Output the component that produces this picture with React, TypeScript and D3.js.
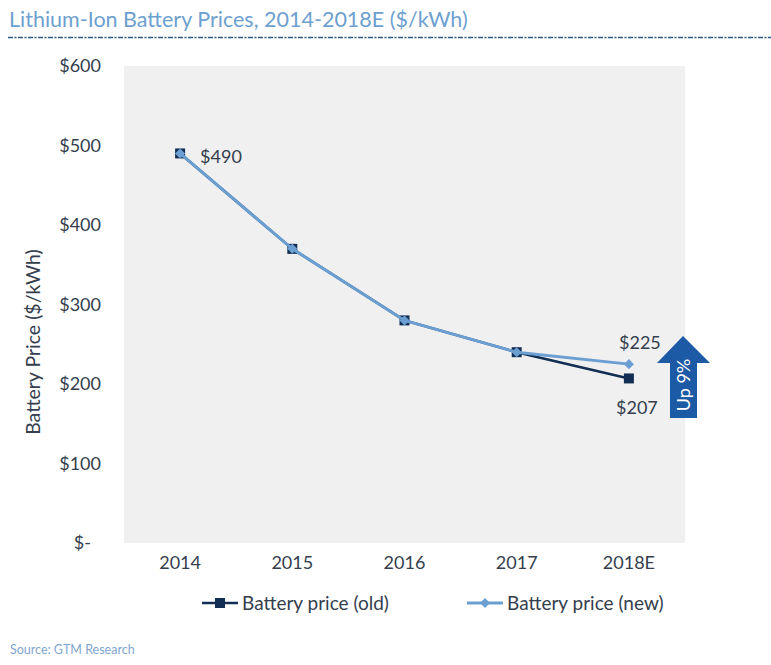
import * as d3 from "d3";

const years = ["2014", "2015", "2016", "2017", "2018E"];
const oldPrice = [490, 370, 280, 240, 207];
const newPrice = [490, 370, 280, 240, 225];
const yTicks = [0, 100, 200, 300, 400, 500, 600];

const W = 771;
const H = 665;
const FONT = "Lato, 'Open Sans', sans-serif";
const OLD_C = "#132e54";
const NEW_C = "#6b9fd2";
const TXT = "#343e4d";

const App = () => {
  const left = 124, right = 685, top = 66, bottom = 543;

  const x = d3.scaleBand<string>().domain(years).range([left, right]);
  const y = d3.scaleLinear().domain([0, 600]).range([bottom, top]);
  const cx = (d: string) => (x(d) as number) + x.bandwidth() / 2;

  const line = d3.line<number>()
    .x((_, i) => cx(years[i]))
    .y(d => y(d));

  const fmt = (v: number) => (v === 0 ? "$-" : `$${v}`);
  const diamond = d3.symbol(d3.symbolDiamond2, 64)() as string;

  // arrow "Up 9%" (annotation next to the 2018E points)
  const ax = 683;
  const arrowPath = `M ${ax} 336 L ${ax + 27} 363 L ${ax + 14} 363 L ${ax + 14} 418 L ${ax - 13} 418 L ${ax - 13} 363 L ${ax - 26} 363 Z`;

  return (
    <svg width={W} height={H} style={{ position: "absolute", left: 0, top: 0 }} fontFamily={FONT}>
      <rect width={W} height={H} fill="#fff" />
      <text x={9} y={27} fontSize={21.5} fill="#6d9fd0">Lithium-Ion Battery Prices, 2014-2018E ($/kWh)</text>
      <line x1={8} x2={771} y1={37.5} y2={37.5} stroke="#2b5a86" strokeWidth={1.5} strokeDasharray="5,1.5,2,1.5" />

      <rect x={left} y={top} width={right - left} height={bottom - top} fill="#f0f0f0" />

      {yTicks.map(t => (
        <text key={t} x={t === 0 ? 91 : 101} y={y(t)} dy="0.35em" textAnchor="end" fontSize={18} fill={TXT}>
          {fmt(t)}
        </text>
      ))}
      {years.map(d => (
        <text key={d} x={cx(d)} y={569} textAnchor="middle" fontSize={18} fill={TXT}>{d}</text>
      ))}
      <text transform={`translate(40,${342}) rotate(-90)`} textAnchor="middle" fontSize={19.5} fill={TXT}>
        Battery Price ($/kWh)
      </text>

      <path d={line(oldPrice) as string} fill="none" stroke={OLD_C} strokeWidth={2.5} />
      {oldPrice.map((v, i) => (
        <rect key={i} x={cx(years[i]) - 5} y={y(v) - 5} width={10} height={10} fill={OLD_C} />
      ))}
      <path d={line(newPrice) as string} fill="none" stroke={NEW_C} strokeWidth={3} />
      {newPrice.map((v, i) => (
        <path key={i} d={diamond} transform={`translate(${cx(years[i])},${y(v)})`} fill={NEW_C} />
      ))}

      <text x={cx(years[0]) + 20} y={y(newPrice[0]) + 3} dy="0.35em" fontSize={18} fill={TXT}>{fmt(newPrice[0])}</text>
      <text x={cx(years[4]) + 11} y={y(newPrice[4]) - 21} dy="0.35em" textAnchor="middle" fontSize={18} fill={TXT}>{fmt(newPrice[4])}</text>
      <text x={cx(years[4]) + 8} y={y(oldPrice[4]) + 29} dy="0.35em" textAnchor="middle" fontSize={18} fill={TXT}>{fmt(oldPrice[4])}</text>

      <path d={arrowPath} fill="#1c5aa6" />
      <text transform={`translate(${ax + 1},${385}) rotate(-90)`} textAnchor="middle" dy="0.35em" fontSize={18} fill="#fff">Up 9%</text>

      <g transform="translate(0,603)">
        <line x1={202} x2={238} stroke={OLD_C} strokeWidth={2.5} />
        <rect x={215} y={-5} width={10} height={10} fill={OLD_C} />
        <text x={242} dy="0.35em" fontSize={19} fill={TXT}>Battery price (old)</text>
        <line x1={467} x2={503} stroke={NEW_C} strokeWidth={3} />
        <path d={diamond} transform="translate(485,0)" fill={NEW_C} />
        <text x={507} dy="0.35em" fontSize={19} fill={TXT}>Battery price (new)</text>
      </g>

      <text x={10} y={654} fontSize={12.5} fill="#7fa6cf">Source: GTM Research</text>
    </svg>
  );
};

export default App;
